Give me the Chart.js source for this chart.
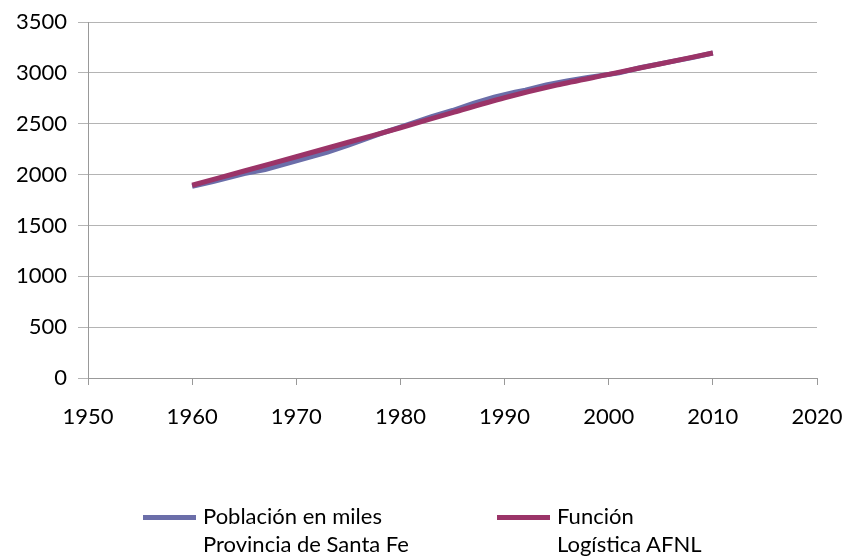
<!DOCTYPE html>
<html>
<head>
<meta charset="utf-8">
<script src="https://cdn.jsdelivr.net/npm/chart.js@4"></script>
<style>
  html, body { margin: 0; padding: 0; background: #fff; }
  #wrap { position: relative; width: 846px; height: 560px; }
  #legend { position: absolute; left: 0; top: 0; font-family: 'Lato', sans-serif; font-size: 22px; line-height: 28px; color: #000; }
  .item { position: absolute; top: 502px; display: flex; align-items: flex-start; white-space: nowrap; }
  .swatch { width: 53px; height: 5px; margin-top: 13px; margin-right: 7px; }
</style>
</head>
<body>
<div id="wrap">
  <canvas id="chart" width="846" height="560"></canvas>
  <div id="legend"></div>
</div>
<script>
// Población en miles, Provincia de Santa Fe
const popYears = [1960, 1962, 1965, 1967, 1970, 1973, 1975, 1978, 1980, 1983, 1985, 1987, 1989, 1991, 1992, 1994, 1996, 1998, 2001, 2003, 2006, 2008, 2010];
const popValues = [1884, 1930, 2010, 2050, 2136, 2220, 2290, 2400, 2466, 2570, 2630, 2700, 2760, 2810, 2830, 2880, 2920, 2955, 3000, 3050, 3110, 3150, 3195];

// Función Logística AFNL
const fitYears = [1960, 1965, 1970, 1975, 1980, 1985, 1990, 1995, 2000, 2005, 2010];
const fitValues = [1895, 2035, 2175, 2318, 2460, 2610, 2755, 2880, 2985, 3090, 3195];

const labels = [['Población en miles', 'Provincia de Santa Fe'], ['Función', 'Logística AFNL']];
const colors = ['#6b6ea9', '#9b3468'];
const legendLeft = [143, 497];

const toPoints = (xs, ys) => xs.map((x, i) => ({ x: x, y: ys[i] }));

const font = { family: 'Lato', size: 22 };

// keep the plot box fixed regardless of label sizes
const noPad = s => { s.paddingLeft = 0; s.paddingRight = 0; s.paddingTop = 0; s.paddingBottom = 0; };

new Chart(document.getElementById('chart'), {
    type: 'line',
    data: {
        datasets: [
            {
                label: labels[0].join(' '),
                data: toPoints(popYears, popValues),
                borderColor: colors[0],
                borderWidth: 5,
                pointRadius: 0,
                tension: 0,
                order: 1
            },
            {
                label: labels[1].join(' '),
                data: toPoints(fitYears, fitValues),
                borderColor: colors[1],
                borderWidth: 5,
                pointRadius: 0,
                tension: 0.3,
                order: 0
            }
        ]
    },
    options: {
        responsive: false,
        animation: false,
        layout: { autoPadding: false, padding: { top: 22, right: 29, left: 0, bottom: 0 } },
        scales: {
            x: {
                type: 'linear',
                min: 1950,
                max: 2020,
                ticks: { stepSize: 10, color: '#000', font: font, padding: 19, maxRotation: 0, callback: v => String(v) },
                grid: { drawOnChartArea: false, color: '#999', tickLength: 7 },
                border: { color: '#999' },
                afterFit: s => { s.height = 182; noPad(s); }
            },
            y: {
                min: 0,
                max: 3500,
                ticks: { stepSize: 500, color: '#000', font: font, padding: 11, callback: v => String(v) },
                grid: { color: '#b4b4b4', tickLength: 10 },
                border: { color: '#999' },
                afterFit: s => { s.width = 88; noPad(s); }
            }
        },
        plugins: {
            legend: { display: false },
            tooltip: { enabled: false }
        }
    }
});

// HTML legend (two-line labels)
const legend = document.getElementById('legend');
labels.forEach((lines, i) => {
    const item = document.createElement('div');
    item.className = 'item';
    item.style.left = legendLeft[i] + 'px';
    const sw = document.createElement('div');
    sw.className = 'swatch';
    sw.style.background = colors[i];
    const txt = document.createElement('div');
    txt.innerHTML = lines.join('<br>');
    item.appendChild(sw);
    item.appendChild(txt);
    legend.appendChild(item);
});
</script>
</body>
</html>
